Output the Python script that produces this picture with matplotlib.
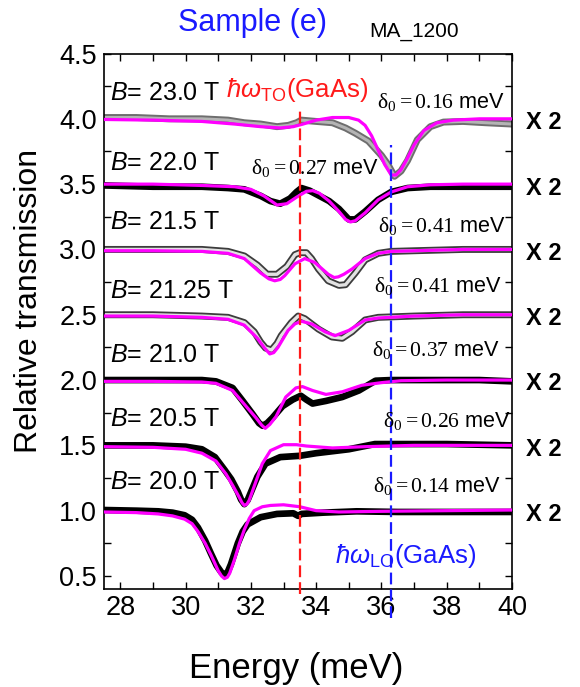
import matplotlib

matplotlib.use("Agg")
import matplotlib.pyplot as plt
from matplotlib.ticker import MultipleLocator

# ---- measured traces (energy in meV, offset relative transmission) ----
# B = 23.0 T, offset 4.0
E_230_DATA = [27.5, 28.5, 29.5, 30.5, 31.3, 31.8, 32.3, 32.8, 33.15, 33.4, 33.55, 34.0, 34.5,
              34.9, 35.2, 35.6, 36.0, 36.2, 36.4, 36.6, 36.8, 37.1, 37.5, 37.9, 38.5, 39.2, 40.0]
T_230_DATA = [4.01, 4.01, 4.0, 4.0, 3.99, 3.97, 3.96, 3.94, 3.95, 3.97, 3.99, 3.98, 3.97,
              3.93, 3.89, 3.83, 3.72, 3.65, 3.56, 3.60, 3.68, 3.84, 3.94, 3.975, 3.98, 3.97, 3.96]
E_230_FIT = [27.5, 29.0, 30.5, 31.5, 32.3, 32.9, 33.3, 33.6, 34.0, 34.5, 35.0, 35.3, 35.5,
             35.7, 35.9, 36.1, 36.3, 36.45, 36.6, 36.8, 37.0, 37.3, 37.7, 38.2, 39.0, 40.0]
T_230_FIT = [3.995, 3.99, 3.98, 3.96, 3.94, 3.93, 3.94, 3.96, 3.99, 4.01, 4.01, 3.99, 3.95,
             3.87, 3.76, 3.65, 3.57, 3.57, 3.61, 3.70, 3.80, 3.91, 3.97, 3.99, 4.0, 4.0]

# B = 22.0 T, offset 3.5
E_220_DATA = [27.5, 29.0, 30.5, 31.3, 31.8, 32.3, 32.6, 32.9, 33.2, 33.4, 33.55, 33.8, 34.1,
              34.4, 34.7, 35.0, 35.2, 35.5, 35.9, 36.3, 36.8, 37.5, 38.5, 40.0]
T_220_DATA = [3.49, 3.48, 3.48, 3.47, 3.46, 3.41, 3.37, 3.35, 3.39, 3.44, 3.47, 3.45, 3.41,
              3.37, 3.31, 3.23, 3.23, 3.29, 3.38, 3.44, 3.47, 3.48, 3.48, 3.48]
E_220_FIT = [27.5, 29.0, 30.5, 31.5, 32.0, 32.4, 32.8, 33.1, 33.4, 33.7, 33.9, 34.1, 34.4,
             34.7, 34.9, 35.05, 35.2, 35.5, 35.9, 36.3, 36.8, 37.5, 38.5, 40.0]
T_220_FIT = [3.50, 3.50, 3.49, 3.48, 3.46, 3.41, 3.34, 3.35, 3.40, 3.445, 3.45, 3.43, 3.37,
             3.29, 3.23, 3.21, 3.22, 3.28, 3.38, 3.44, 3.48, 3.495, 3.50, 3.50]

# B = 21.5 T, offset 3.0
E_215_DATA = [27.5, 29.0, 30.5, 31.3, 31.8, 32.2, 32.5, 32.8, 33.1, 33.35, 33.5, 33.7, 33.86,
              34.07, 34.37, 34.7, 34.9, 35.2, 35.5, 35.9, 36.3, 37.0, 38.5, 40.0]
T_215_DATA = [3.0, 3.0, 3.0, 2.985, 2.95, 2.88, 2.81, 2.81, 2.87, 2.96, 2.975, 2.975, 2.93,
              2.85, 2.76, 2.725, 2.73, 2.82, 2.92, 2.97, 2.985, 2.99, 3.0, 3.0]
E_215_FIT = [27.5, 29.0, 30.5, 31.3, 31.8, 32.3, 32.55, 32.73, 32.9, 33.04, 33.35, 33.65,
             33.96, 34.37, 34.55, 34.68, 34.85, 35.1, 35.5, 35.9, 36.3, 37.0, 38.5, 40.0]
T_215_FIT = [2.99, 2.99, 2.985, 2.97, 2.93, 2.82, 2.775, 2.76, 2.77, 2.80, 2.89, 2.93,
             2.90, 2.81, 2.785, 2.79, 2.81, 2.85, 2.93, 2.97, 2.985, 2.99, 3.0, 3.0]

# B = 21.25 T, offset 2.5
E_2125_DATA = [27.5, 29.0, 30.5, 31.3, 31.8, 32.1, 32.3, 32.45, 32.63, 32.8, 32.93, 33.24,
               33.45, 33.65, 34.07, 34.48, 34.8, 35.1, 35.5, 35.9, 37.0, 38.5, 40.0]
T_2125_DATA = [2.5, 2.5, 2.49, 2.48, 2.44, 2.37, 2.29, 2.245, 2.23, 2.28, 2.34, 2.44,
               2.49, 2.47, 2.39, 2.33, 2.32, 2.37, 2.46, 2.48, 2.49, 2.5, 2.5]
E_2125_FIT = [27.5, 29.0, 30.5, 31.3, 31.8, 32.2, 32.42, 32.58, 32.7, 32.83, 33.14, 33.35,
              33.55, 33.86, 34.27, 34.58, 35.0, 35.5, 35.9, 37.0, 38.5, 40.0]
T_2125_FIT = [2.49, 2.49, 2.48, 2.465, 2.42, 2.32, 2.245, 2.20, 2.21, 2.25, 2.38, 2.43,
              2.45, 2.43, 2.37, 2.34, 2.38, 2.46, 2.475, 2.49, 2.5, 2.5]

# B = 21.0 T, offset 2.0
E_210_DATA = [27.5, 29.0, 30.5, 30.93, 31.44, 31.75, 32.05, 32.25, 32.36, 32.5, 32.66, 32.97,
              33.28, 33.53, 33.7, 33.89, 34.3, 34.8, 35.31, 35.82, 36.3, 37.5, 39.0, 40.0]
T_210_DATA = [2.0, 2.0, 2.0, 1.99, 1.94, 1.84, 1.74, 1.67, 1.65, 1.67, 1.71, 1.80,
              1.85, 1.88, 1.85, 1.82, 1.84, 1.87, 1.92, 1.995, 2.0, 2.0, 2.0, 1.99]
E_210_FIT = [27.5, 29.0, 30.5, 30.93, 31.44, 31.85, 32.16, 32.33, 32.44, 32.58, 32.77, 33.07,
             33.38, 33.58, 33.89, 34.3, 34.8, 35.4, 36.0, 36.6, 38.0, 40.0]
T_210_FIT = [1.99, 1.99, 1.985, 1.975, 1.92, 1.80, 1.71, 1.655, 1.63, 1.66, 1.72, 1.87,
             1.94, 1.95, 1.92, 1.89, 1.91, 1.96, 1.98, 1.995, 2.0, 2.0]

# B = 20.5 T, offset 1.5
E_205_DATA = [27.5, 29.0, 30.0, 30.5, 30.9, 31.2, 31.4, 31.6, 31.7, 31.8, 31.9, 32.0, 32.2,
              32.45, 32.9, 33.5, 34.0, 35.0, 35.8, 36.5, 38.0, 40.0]
T_205_DATA = [1.50, 1.50, 1.49, 1.47, 1.41, 1.31, 1.24, 1.145, 1.085, 1.05, 1.08, 1.14, 1.26,
              1.36, 1.41, 1.42, 1.44, 1.47, 1.51, 1.51, 1.51, 1.50]
E_205_FIT = [27.5, 29.0, 30.0, 30.5, 30.93, 31.24, 31.45, 31.65, 31.73, 31.8, 31.88, 31.95,
             32.15, 32.35, 32.6, 33.0, 33.4, 33.7, 34.5, 35.5, 37.0, 40.0]
T_205_FIT = [1.49, 1.485, 1.47, 1.44, 1.38, 1.28, 1.19, 1.10, 1.06, 1.04, 1.05, 1.08,
             1.22, 1.36, 1.46, 1.505, 1.505, 1.495, 1.48, 1.49, 1.50, 1.50]

# B = 20.0 T, offset 1.0
E_200_DATA = [27.5, 28.5, 29.16, 29.6, 29.97, 30.2, 30.38, 30.6, 30.78, 30.95, 31.09, 31.19,
              31.29, 31.39, 31.6, 31.75, 31.9, 32.3, 32.8, 33.3, 33.45, 33.55, 34.23, 35.24,
              36.5, 38.0, 40.0]
T_200_DATA = [1.005, 1.0, 0.995, 0.985, 0.965, 0.93, 0.87, 0.77, 0.67, 0.58, 0.53, 0.505,
              0.53, 0.59, 0.75, 0.84, 0.895, 0.95, 0.975, 0.98, 0.96, 0.975, 0.985, 0.995,
              0.99, 0.99, 0.99]
E_200_FIT = [27.5, 28.5, 29.16, 29.6, 29.97, 30.2, 30.38, 30.6, 30.78, 31.0, 31.1, 31.19,
             31.28, 31.35, 31.49, 31.65, 31.8, 31.95, 32.1, 32.35, 32.6, 33.0, 33.5, 34.0,
             34.7, 36.0, 38.0, 40.0]
T_200_FIT = [0.99, 0.985, 0.975, 0.96, 0.935, 0.90, 0.84, 0.75, 0.66, 0.54, 0.50, 0.48,
             0.49, 0.52, 0.62, 0.75, 0.855, 0.94, 1.0, 1.03, 1.04, 1.045, 1.03, 1.0,
             0.99, 0.995, 1.0, 1.005]

FIELDS = ["23.0", "22.0", "21.5", "21.25", "21.0", "20.5", "20.0"]
OFFSETS = [4.0, 3.5, 3.0, 2.5, 2.0, 1.5, 1.0]
DELTAS = ["0.16", "0.27", "0.41", "0.41", "0.37", "0.26", "0.14"]
FIELD_LABEL_Y = [4.2, 3.66, 3.21, 2.68, 2.19, 1.70, 1.22]
DELTA_X = [35.85, 31.99, 35.9, 35.76, 35.7, 36.05, 35.74]
DELTA_Y = [4.13, 3.62, 3.18, 2.72, 2.23, 1.69, 1.19]
HOLLOW = [True, False, True, True, False, False, False]

E_TO, TO_SPAN = 33.5, (0.36, 4.06)
E_LO, LO_SPAN = 36.3, (0.18, 3.80)

plt.rcParams.update({
    "font.family": ["Liberation Sans", "DejaVu Sans"],
    "mathtext.fontset": "custom",
    "mathtext.rm": "Liberation Serif",
    "mathtext.it": "Liberation Sans:italic",
    "mathtext.sf": "Liberation Sans",
    "lines.scale_dashes": False,
})

fig = plt.figure(figsize=(5.8, 6.87), dpi=100)
ax = fig.add_axes([0.1793, 0.1426, 0.7034, 0.7795])

traces = [
    (E_230_DATA, T_230_DATA, E_230_FIT, T_230_FIT),
    (E_220_DATA, T_220_DATA, E_220_FIT, T_220_FIT),
    (E_215_DATA, T_215_DATA, E_215_FIT, T_215_FIT),
    (E_2125_DATA, T_2125_DATA, E_2125_FIT, T_2125_FIT),
    (E_210_DATA, T_210_DATA, E_210_FIT, T_210_FIT),
    (E_205_DATA, T_205_DATA, E_205_FIT, T_205_FIT),
    (E_200_DATA, T_200_DATA, E_200_FIT, T_200_FIT),
]

for i, (ed, td, ef, tf) in enumerate(traces):
    if i == 0:
        ax.plot(ed, td, color="#6e6e6e", lw=5.0, solid_joinstyle="round", zorder=2)
        ax.plot(ed, td, color="#b4b4b4", lw=2.2, solid_joinstyle="round", zorder=2.1)
    elif HOLLOW[i]:
        ax.plot(ed, td, color="#3c3c3c", lw=5.0, solid_joinstyle="round", zorder=2)
        ax.plot(ed, td, color="#e2e2e2", lw=2.4, solid_joinstyle="round", zorder=2.1)
    else:
        ax.plot(ed, td, color="black", lw=4.8, solid_joinstyle="round", zorder=2)
    ax.plot(ef, tf, color="#ff00ff", lw=2.3, solid_joinstyle="round", zorder=3)

ax.plot([E_TO, E_TO], TO_SPAN, color="#ff1a1a", lw=1.6, dashes=(8.5, 3.6),
        clip_on=False, zorder=4)
ax.plot([E_LO, E_LO], LO_SPAN, color="#1a1aff", lw=1.6, dashes=(8.5, 3.6),
        clip_on=False, zorder=4)

ax.set_xlim(27.5, 40)
ax.set_ylim(0.4, 4.5)
ax.xaxis.set_major_locator(MultipleLocator(2))
ax.xaxis.set_minor_locator(MultipleLocator(1))
ax.yaxis.set_major_locator(MultipleLocator(0.5))
ax.yaxis.set_minor_locator(MultipleLocator(0.25))
ax.tick_params(which="both", direction="in", top=True, right=True, length=5, width=1.0)
ax.tick_params(axis="x", labelsize=19.5, pad=4)
ax.tick_params(axis="y", labelsize=19.5, pad=5)
for s in ax.spines.values():
    s.set_linewidth(1.2)

ytf = ax.get_yaxis_transform()
for f, off, ly, d, dx, dy in zip(FIELDS, OFFSETS, FIELD_LABEL_Y, DELTAS, DELTA_X, DELTA_Y):
    ax.text(27.68, ly, r"$\mathit{B}$= " + f + " T", fontsize=18, va="center", ha="left",
            zorder=5)
    ax.text(dx, dy, r"$\mathrm{\delta_0 = " + d + "}$ meV", fontsize=15.6, va="center",
            ha="left", zorder=5, clip_on=False)
    ax.text(1.034, off - 0.03, "X 2", transform=ytf, fontsize=17, fontweight="bold",
            va="center", ha="left", clip_on=False)

ax.text(31.25, 4.22, r"$\hbar\omega_{\mathsf{TO}}$(GaAs)", color="#ff1a1a", fontsize=18.5,
        va="center", ha="left", zorder=5)
ax.text(34.57, 0.655, r"$\hbar\omega_{\mathsf{LO}}$(GaAs)", color="#1a1aff", fontsize=18.5,
        va="center", ha="left", zorder=5)
ax.text(32.05, 4.73, "Sample (e)", color="#1a1aff", fontsize=22, va="center", ha="center",
        clip_on=False)
ax.text(36.99, 4.67, "MA_1200", color="black", fontsize=15, va="center", ha="center",
        clip_on=False)

fig.text(0.05, 0.562, "Relative transmission", rotation=90, fontsize=23,
         va="center", ha="center")
fig.text(0.511, 0.0131, "Energy (meV)", fontsize=25, va="baseline", ha="center")

fig.savefig("out.png", dpi=100)
